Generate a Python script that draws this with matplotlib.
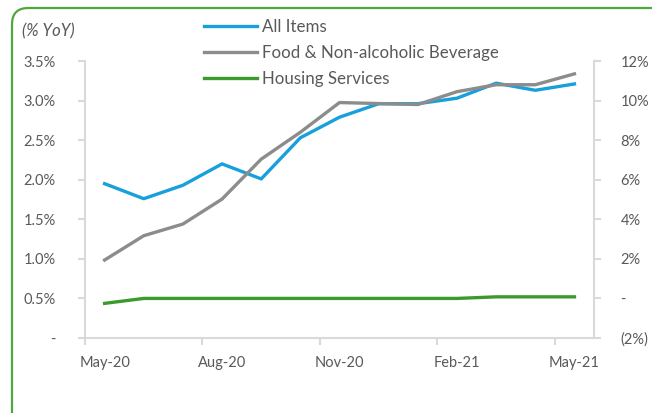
import numpy as np
import matplotlib.pyplot as plt
from matplotlib.patches import FancyBboxPatch

plt.rcParams['font.family'] = ['Lato', 'DejaVu Sans']

# data
months = ["May-20", "Jun-20", "Jul-20", "Aug-20", "Sep-20", "Oct-20", "Nov-20",
          "Dec-20", "Jan-21", "Feb-21", "Mar-21", "Apr-21", "May-21"]
all_items = [1.95, 1.76, 1.93, 2.20, 2.01, 2.53, 2.79, 2.96, 2.96, 3.03, 3.22, 3.13, 3.21]  # left axis
food = [1.94, 3.17, 3.76, 5.02, 7.04, 8.4, 9.9, 9.85, 9.8, 10.45, 10.8, 10.8, 11.35]       # right axis
housing = [-0.25, 0.0, 0.0, 0.0, 0.0, 0.0, 0.0, 0.0, 0.0, 0.0, 0.08, 0.08, 0.08]         # right axis

left_ticks = [0, 0.5, 1.0, 1.5, 2.0, 2.5, 3.0, 3.5]
right_ticks = [-2, 0, 2, 4, 6, 8, 10, 12]

blue = "#18a0dc"
grey = "#8c8c8c"
green = "#3c9a2c"
txt = "#595959"
axcol = "#d9d9d9"

x = np.arange(len(months))

fig = plt.figure(figsize=(6.52, 4.13), dpi=100)
ax = fig.add_axes([0.1304, 0.1816, 0.7807, 0.6707])
ax2 = ax.twinx()

l1, = ax.plot(x, all_items, color=blue, lw=2.4, label="All Items", zorder=3)
l2, = ax2.plot(x, food, color=grey, lw=2.4, label="Food & Non-alcoholic Beverage", zorder=2)
l3, = ax2.plot(x, housing, color=green, lw=2.4, label="Housing Services", zorder=2)

ax.set_xlim(-0.5, 12.5)
ax.set_ylim(0, 3.5)
ax2.set_ylim(-2, 12)

ax.set_yticks(left_ticks)
ax.set_yticklabels(["-" if v == 0 else f"{v:.1f}%" for v in left_ticks])
ax2.set_yticks(right_ticks)
ax2.set_yticklabels(["-" if v == 0 else (f"({-v}%)" if v < 0 else f"{v}%") for v in right_ticks])

ax.set_xticks([-0.5, 2.5, 5.5, 8.5, 11.5])
ax.set_xticklabels([])
ax.set_xticks([0, 3, 6, 9, 12], minor=True)
ax.set_xticklabels([months[i] for i in [0, 3, 6, 9, 12]], minor=True)
ax.tick_params(axis='x', which='minor', length=0, pad=13, labelsize=10.5, labelcolor=txt)
ax.tick_params(axis='x', which='major', length=5, width=1.5, color=axcol)

ax.tick_params(axis='y', length=5, width=1.5, color=axcol, labelsize=10.5, labelcolor=txt, pad=16)
ax2.tick_params(axis='y', length=5, width=1.5, color=axcol, labelsize=10.5, labelcolor=txt, pad=14)

for a in (ax, ax2):
    for s in a.spines.values():
        s.set_visible(False)
ax.spines['left'].set_visible(True)
ax.spines['bottom'].set_visible(True)
ax2.spines['right'].set_visible(True)
for s in (ax.spines['left'], ax.spines['bottom'], ax2.spines['right']):
    s.set_color(axcol)
    s.set_linewidth(1.5)

fig.text(22 / 652, 1 - 31 / 413, "(% YoY)", style='italic', fontsize=12, color=txt, va='center')

fig.legend(handles=[l1, l2, l3], loc='upper left', bbox_to_anchor=(204 / 652, 1 - 19 / 413),
           frameon=False, fontsize=12.2, labelcolor=txt, handlelength=3.15, handletextpad=0.3,
           labelspacing=0.6, borderaxespad=0, borderpad=0)

border = FancyBboxPatch((12 / 652, -0.2), 1.2, 1 - 8 / 413 + 0.2,
                        boxstyle="round,pad=0,rounding_size=0.025",
                        transform=fig.transFigure, fill=False, edgecolor="#4ea83c", lw=1.6,
                        mutation_aspect=652 / 413)
fig.patches.append(border)

plt.savefig('out.png', dpi=100)
